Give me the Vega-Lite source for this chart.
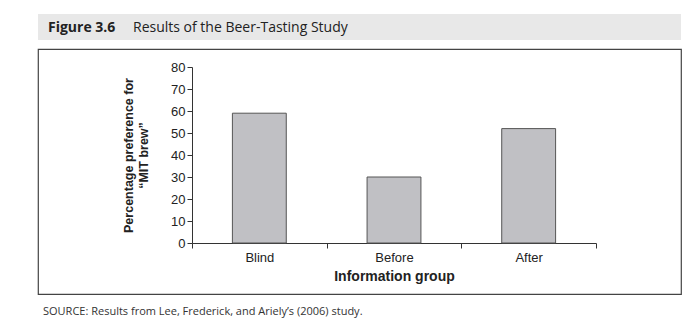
{
  "$schema": "https://vega.github.io/schema/vega-lite/v6.json",
  "padding": {"left": 37, "top": 14, "right": 20, "bottom": 10},
  "background": "white",
  "title": {"text": "Figure 3.6", "anchor": "start", "frame": "group", "dx": 10, "offset": -32, "baseline": "alphabetic", "font": "Open Sans", "fontSize": 14, "fontWeight": "bold", "color": "#222"},
  "spacing": 8,
  "vconcat": [
    {
      "width": 643,
      "height": 26,
      "view": {"fill": "#e8e8e8", "stroke": null},
      "title": {"text": "Results of the Beer-Tasting Study", "anchor": "start", "frame": "group", "dx": 95, "offset": -32, "baseline": "alphabetic", "font": "Open Sans", "fontSize": 14, "fontWeight": "normal", "color": "#222"},
      "data": {"values": [{"a": 1}]},
      "mark": {"type": "point", "opacity": 0},
      "encoding": {}
    },
    {
      "width": 643,
      "height": 245,
      "view": {"fill": "white", "stroke": "#444", "strokeWidth": 1.2},
      "title": {"text": "SOURCE: Results from Lee, Frederick, and Ariely’s (2006) study.", "orient": "bottom", "anchor": "start", "frame": "group", "dx": 5, "offset": 12, "baseline": "top", "font": "Open Sans", "fontSize": 11, "fontWeight": "normal", "color": "#333"},
      "data": {"values": [
        {"group": "Blind", "pct": 59},
        {"group": "Before", "pct": 30},
        {"group": "After", "pct": 52}
      ]},
      "mark": {"type": "bar", "fill": "#c0c0c4", "stroke": "#555", "strokeWidth": 1, "width": {"band": 0.4}},
      "encoding": {
        "x": {
          "field": "group", "type": "nominal", "sort": ["Blind", "Before", "After"],
          "scale": {"range": [154, 558], "paddingInner": 0, "paddingOuter": 0},
          "axis": {
            "orient": "bottom", "offset": -51, "tickBand": "extent", "tickSize": 5, "tickColor": "#333", "domainColor": "#333",
            "labelAngle": 0, "labelFont": "Liberation Sans", "labelFontSize": 13, "labelColor": "#222", "labelPadding": 3,
            "title": "Information group", "titleFont": "Liberation Sans", "titleFontSize": 14, "titleFontWeight": "bold", "titleColor": "#222", "titlePadding": 5,
            "grid": false
          }
        },
        "y": {
          "field": "pct", "type": "quantitative",
          "scale": {"domain": [0, 80], "range": [194, 18], "nice": false},
          "axis": {
            "orient": "left", "offset": -154, "values": [0, 10, 20, 30, 40, 50, 60, 70, 80], "tickSize": 5, "tickColor": "#333", "domainColor": "#333",
            "labelFont": "Liberation Sans", "labelFontSize": 13, "labelColor": "#222", "labelPadding": 2,
            "title": ["Percentage preference for", "“MIT brew”"], "titleFont": "Liberation Sans", "titleFontSize": 12.5, "titleFontWeight": "bold", "titleColor": "#222", "titleLineHeight": 15, "titlePadding": 20,
            "grid": false
          }
        }
      }
    }
  ]
}
